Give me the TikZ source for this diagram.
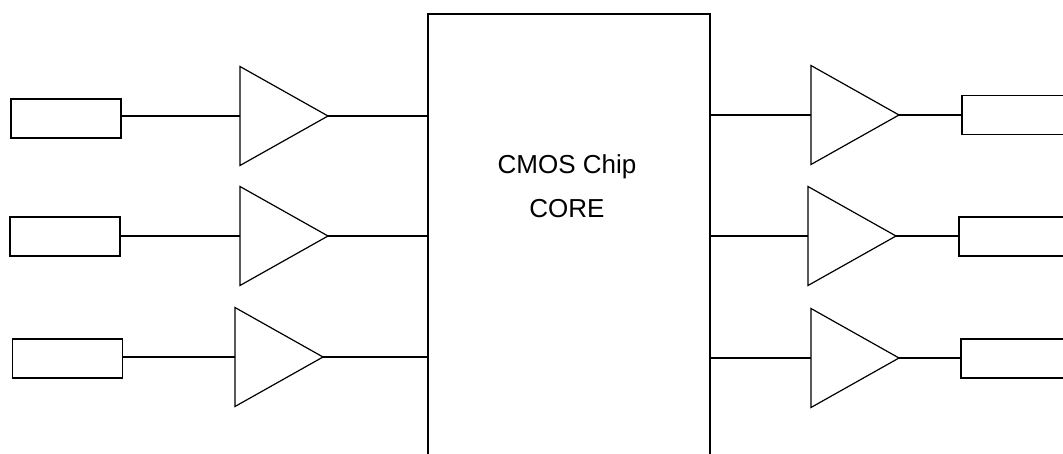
\documentclass[tikz,border=0pt]{standalone}
\usepackage{fontspec}
\setmainfont{Liberation Sans}
\usetikzlibrary{positioning,shapes.geometric}

\begin{document}
\begin{tikzpicture}[
        x=1pt, y=-1pt,
        pad/.style={
            rectangle,
            draw,
            line width=1.6pt,
            inner sep=0pt,
            outer sep=0pt,
            minimum width=110pt,
            minimum height=39pt
        },
        buffer/.style={
            isosceles triangle,
            isosceles triangle stretches,
            shape border rotate=0,
            draw,
            line width=1.2pt,
            inner sep=0pt,
            outer sep=0pt,
            minimum width=99pt,
            minimum height=88pt,
            anchor=west
        },
        wire/.style={-, line width=1.6pt}
    ]

        \useasboundingbox (0,0) rectangle (1063,454);

        % chip core
        \node (core) [
            rectangle,
            draw,
            line width=2.3pt,
            minimum width=282pt,
            minimum height=466pt
        ] at (569,247) {};

        \node (label) [
            align=center,
            font=\fontsize{26}{44}\selectfont
        ] at (567,186) {CMOS Chip\\CORE};

        % input side
        \node (in1) [pad] at (66,118.5) {};
        \node (in2) [pad] at (65,236.5) {};
        \node (in3) [pad] at (67.5,358.5) {};

        \node (ib1) [buffer] at (240,116) {};
        \node (ib2) [buffer] at (240,236) {};
        \node (ib3) [buffer] at (235,357) {};

        % output side
        \node (ob1) [buffer] at (811,115) {};
        \node (ob2) [buffer] at (808,236) {};
        \node (ob3) [buffer] at (811,358) {};

        \node (out1) [pad] at (1017,115) {};
        \node (out2) [pad] at (1014,236.5) {};
        \node (out3) [pad] at (1016,358.5) {};

        \foreach \i in {1,2,3} {
            \draw[wire] (ib\i.west -| in\i.east) to (ib\i.west);
            \draw[wire] (ib\i.apex) to (ib\i.apex -| core.west);
            \draw[wire] (ob\i.west -| core.east) to (ob\i.west);
            \draw[wire] (ob\i.apex) to (ob\i.apex -| out\i.west);
        }
    \end{tikzpicture}
\end{document}
